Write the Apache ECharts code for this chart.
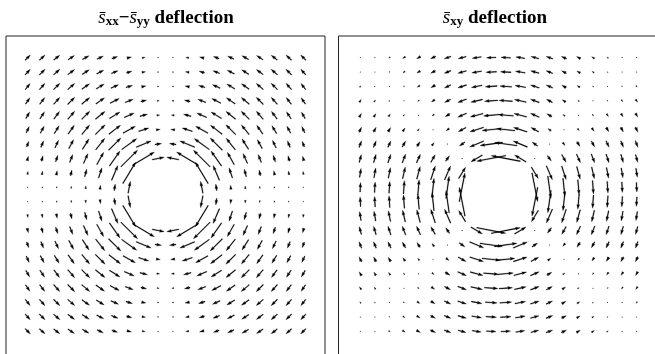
<!DOCTYPE html>
<html>
<head>
<meta charset="utf-8">
<script src="https://cdn.jsdelivr.net/npm/echarts@6/dist/echarts.min.js"></script>
<style>
html, body { margin: 0; padding: 0; background: #fff; }
#chart { width: 655px; height: 354px; }
</style>
</head>
<body>
<div id="chart"></div>
<script>
// grid of the top-left quadrant, the other three quadrants are its mirror images
let colX = [-9.5, -8.5, -7.5, -6.5, -5.5, -4.5, -3.5, -2.5, -1.5, -0.5]
let rowY = [9.5, 8.5, 7.5, 6.5, 5.5, 4.5, 3.5, 2.5, 1.5, 0.5]

// sxx - syy panel: arrow direction (deg) and length, null = inside the hole
let leftAng = [
    [45, 42, 38, 34, 30, 25, 20, 15, 9, 3],
    [48, 45, 41, 37, 33, 28, 22, 16, 10, 3],
    [52, 49, 45, 41, 36, 31, 25, 18, 11, 4],
    [56, 53, 49, 45, 40, 35, 28, 21, 13, 4],
    [60, 57, 54, 50, 45, 39, 32, 24, 15, 5],
    [65, 62, 59, 55, 51, 45, 38, 29, 18, 6],
    [70, 68, 65, 62, 58, 52, 45, 36, 23, 8],
    [75, 74, 72, 69, 66, 61, 55, 45, 31, 11],
    [81, 80, 79, 77, 75, 72, 67, 59, null, null],
    [87, 87, 86, 86, 85, 84, 82, 79, null, null]
]
let leftLen = [
    [7.3, 7.5, 7.7, 7.7, 7.5, 6.9, 6.0, 4.6, 3.0, 1.0],
    [7.5, 8.0, 8.3, 8.4, 8.4, 8.0, 7.1, 5.5, 3.6, 1.3],
    [7.7, 8.3, 8.9, 9.3, 9.4, 9.2, 8.4, 6.8, 4.4, 1.5],
    [7.7, 8.4, 9.3, 10.0, 10.5, 10.6, 10.2, 8.5, 5.8, 2.0],
    [7.5, 8.4, 9.5, 10.6, 11.5, 12.3, 12.3, 10.8, 7.8, 2.8],
    [6.9, 8.0, 9.2, 10.7, 12.3, 13.8, 14.7, 14.1, 10.7, 4.1],
    [6.0, 7.0, 8.4, 10.2, 12.3, 14.7, 17.3, 18.6, 16.1, 6.6],
    [4.6, 5.6, 6.8, 8.5, 10.8, 14.1, 18.4, 23.5, 24.8, 12.2],
    [3.0, 3.6, 4.4, 5.8, 7.8, 10.7, 16.1, 24.8, null, null],
    [1.0, 1.3, 1.5, 2.0, 2.8, 4.1, 6.6, 12.2, null, null]
]

// sxy panel
let rightAng = [
    [45, 222, 218, 214, 210, 205, 200, 195, 189, 183],
    [48, 45, 221, 217, 213, 208, 202, 196, 190, 183],
    [52, 49, 45, 221, 216, 211, 205, 198, 191, 184],
    [56, 53, 49, 45, 220, 215, 208, 201, 193, 184],
    [60, 57, 54, 50, 45, 219, 212, 204, 195, 185],
    [65, 62, 59, 55, 51, 45, 218, 209, 198, 186],
    [70, 68, 65, 62, 58, 52, 45, 216, 203, 188],
    [75, 74, 72, 69, 66, 61, 55, 45, 211, 191],
    [81, 80, 79, 77, 75, 72, 67, 59, null, null],
    [87, 87, 86, 86, 85, 84, 82, 79, null, null]
]
let rightLen = [
    [0, 0.8, 1.8, 3.2, 4.3, 5.6, 7.0, 8.1, 9.1, 9.6],
    [0.8, 0, 1.1, 2.3, 3.8, 5.4, 7.1, 8.7, 9.9, 10.6],
    [1.8, 1.1, 0, 1.3, 3.1, 4.9, 7.0, 9.1, 10.8, 11.8],
    [3.2, 2.3, 1.3, 0, 1.8, 3.9, 6.7, 9.3, 11.9, 13.4],
    [4.3, 3.8, 3.1, 1.8, 0, 2.5, 5.7, 9.5, 13.1, 15.3],
    [5.6, 5.4, 4.9, 3.9, 2.5, 0, 3.6, 8.8, 14.3, 18.3],
    [7.0, 7.0, 7.0, 6.7, 5.7, 3.6, 0, 6.7, 15.2, 22.6],
    [8.1, 8.7, 9.1, 9.4, 9.5, 8.8, 6.5, 0, 13.3, 29.5],
    [9.1, 9.9, 10.8, 11.9, 13.1, 14.3, 15.2, 13.3, null, null],
    [9.6, 10.6, 11.8, 13.4, 15.3, 18.3, 22.6, 29.5, null, null]
]

let shaft = 0.85         // arrow shaft width in px
let headW = 3.3, headL = 5.5, headAxis = 5   // in shaft widths
let unitsPerLen = 1 / 14.5

// mirror the quadrant into the full field
// 'lr': u flips with x, v flips with y ; 'rot': u flips with y, v flips with x
function buildField(ang, len, mode) {
    let out = []
    for (let r = 0; r < rowY.length; r++) {
        for (let c = 0; c < colX.length; c++) {
            if (len[r][c] == null) continue
            let a = ang[r][c] * Math.PI / 180
            let uq = len[r][c] * Math.cos(a)
            let vq = len[r][c] * Math.sin(a)
            for (let sx of [1, -1]) {
                for (let sy of [1, -1]) {
                    let u = mode == 'lr' ? uq * sx : uq * sy
                    let v = mode == 'lr' ? vq * sy : vq * sx
                    out.push([colX[c] * sx, rowY[r] * sy, u, v])
                }
            }
        }
    }
    return out
}

// matplotlib-like quiver arrow, pivot in the middle
function renderArrow(params, api) {
    let x = api.value(0), y = api.value(1)
    let u = api.value(2), v = api.value(3)
    let p0 = api.coord([x, y])
    let p1 = api.coord([x + u * unitsPerLen, y + v * unitsPerLen])
    let dx = p1[0] - p0[0], dy = p1[1] - p0[1]
    let L = Math.sqrt(dx * dx + dy * dy) / shaft
    if (L < 1) {
        return { type: 'circle', shape: { cx: p0[0], cy: p0[1], r: 0.5 }, style: { fill: '#000' }, silent: true }
    }
    let hw = headW / 2
    let X, Y
    if (L >= headL) {
        X = [0, L - headAxis, L - headL, L, L - headL, L - headAxis, 0]
        Y = [0.5, 0.5, hw, 0, -hw, -0.5, -0.5]
    } else {
        let k = L / headL
        X = [0, headL - headAxis, 0, headL, 0, headL - headAxis, 0].map(t => t * k)
        Y = [0.5, 0.5, hw, 0, -hw, -0.5, -0.5].map(t => t * k)
    }
    let tip = X[3]
    let ca = dx / (L * shaft), sa = dy / (L * shaft)
    let pts = []
    for (let i = 0; i < X.length; i++) {
        let px = (X[i] - tip / 2) * shaft
        let py = Y[i] * shaft
        pts.push([p0[0] + px * ca - py * sa, p0[1] + px * sa + py * ca])
    }
    return { type: 'polygon', shape: { points: pts }, style: { fill: '#000', stroke: '#000', lineWidth: 0.3 }, silent: true }
}

let titleRich = {
    s: { fontFamily: 'Liberation Serif', fontStyle: 'italic', fontWeight: 'normal', fontSize: 19, fill: '#000' },
    sub: { fontFamily: 'Liberation Serif', fontWeight: 'bold', fontSize: 13, fill: '#000', padding: [8, 0, 0, 0] },
    b: { fontFamily: 'Liberation Serif', fontWeight: 'bold', fontSize: 19, fill: '#000' }
}

let chart = echarts.init(document.getElementById('chart'), null, { renderer: 'canvas' })
chart.setOption({
    animation: false,
    backgroundColor: '#fff',
    graphic: [
        {
            type: 'text', x: 166, y: 18,
            style: { text: '{s|s\u0304}{sub|xx}{b|\u2212}{s|s\u0304}{sub|yy}{b| deflection}', rich: titleRich, align: 'center', verticalAlign: 'middle' }
        },
        {
            type: 'text', x: 495, y: 18,
            style: { text: '{s|s\u0304}{sub|xy}{b| deflection}', rich: titleRich, align: 'center', verticalAlign: 'middle' }
        }
    ],
    grid: [
        { left: 6, top: 36, width: 319, height: 322, show: true, borderColor: '#222', borderWidth: 1, outerBoundsMode: 'none', containLabel: false },
        { left: 338.5, top: 36, width: 322, height: 322, show: true, borderColor: '#222', borderWidth: 1, outerBoundsMode: 'none', containLabel: false }
    ],
    xAxis: [
        { gridIndex: 0, type: 'value', min: -11, max: 11, show: false },
        { gridIndex: 1, type: 'value', min: -11, max: 11.14, show: false }
    ],
    yAxis: [
        { gridIndex: 0, type: 'value', min: -11.35, max: 11, show: false },
        { gridIndex: 1, type: 'value', min: -11.35, max: 11, show: false }
    ],
    series: [
        { type: 'custom', xAxisIndex: 0, yAxisIndex: 0, renderItem: renderArrow, data: buildField(leftAng, leftLen, 'lr'), silent: true },
        { type: 'custom', xAxisIndex: 1, yAxisIndex: 1, renderItem: renderArrow, data: buildField(rightAng, rightLen, 'rot'), silent: true }
    ]
})
</script>
</body>
</html>
